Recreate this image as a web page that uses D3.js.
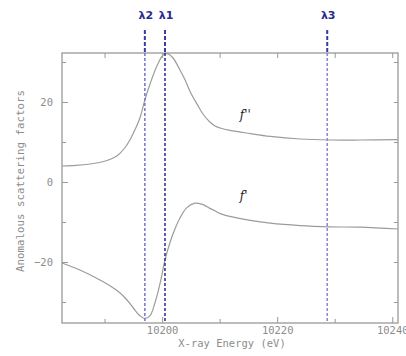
<!DOCTYPE html>
<html><head><meta charset="utf-8">
<script src="https://cdn.jsdelivr.net/npm/d3@7"></script>
<style>body{margin:0;background:#fff;} svg{display:block;}</style>
</head><body>
<script>
// ---- data ----
const fppEnergy = [10182.6,10185.0,10187.5,10189.5,10191.0,10192.3,10193.5,10194.4,10195.3,10196.2,10197.0,10197.9,10199.1,10200.2,10200.9,10201.9,10203.1,10204.0,10204.9,10206.1,10207.1,10208.3,10209.2,10210.1,10211.8,10215.3,10218.8,10224.0,10229.2,10234.4,10241.0];
const fppValues = [4.0,4.15,4.5,5.0,5.7,6.7,8.5,10.5,13.1,16.25,20.5,24.5,29.0,31.8,32.1,31.0,28.0,25.5,22.5,19.4,17.0,15.0,14.0,13.5,12.9,12.1,11.4,10.75,10.5,10.5,10.6];
const fpEnergy = [10182.6,10185.7,10189.2,10191.0,10192.7,10193.9,10195.0,10196.0,10197.0,10197.9,10198.8,10199.7,10200.5,10201.4,10202.3,10203.1,10204.3,10205.7,10207.0,10207.7,10208.3,10209.2,10210.1,10211.8,10215.3,10218.8,10224.0,10229.2,10234.4,10241.0];
const fpValues = [-20.25,-22.0,-24.5,-26.0,-27.75,-29.5,-31.5,-33.25,-34.1,-33.4,-30.0,-25.0,-19.5,-15.0,-11.5,-9.0,-6.4,-5.3,-5.6,-6.1,-6.6,-7.2,-7.9,-8.6,-9.6,-10.3,-10.9,-11.2,-11.3,-11.75];
const markerNames = ["λ2","λ1","λ3"];
const markerEnergy = [10197.0,10200.5,10228.7];
const xTickMajor = [10200,10220,10240];
const xTickMinor = [10190,10210,10230];
const yTickMajor = [-20,0,20];
const yTickMinor = [-30,-10,10,30];
const curveLabels = ["f''","f'"];
const curveLabelPos = [[10213.5,15.8],[10213.5,-4.5]];

(function(){
// ---- layout ----
const W=406,H=356;
const L=62,R=398,T=53,B=323;
const svg=d3.select("body").append("svg").attr("width",W).attr("height",H);
const x=d3.scaleLinear().domain([10182.6,10241.0]).range([L,R]);
const y=d3.scaleLinear().domain([-35.25,32.25]).range([B,T]);
const gray="#8c8c8c";
const font="'DejaVu Sans Mono', 'Liberation Mono', monospace";

// frame
svg.append("rect").attr("x",L).attr("y",T).attr("width",R-L).attr("height",B-T)
  .attr("fill","none").attr("stroke","#a0a0a0").attr("stroke-width",1.4);

// axes with inward ticks
const gBottom=svg.append("g").attr("transform",`translate(0,${B})`)
  .call(d3.axisBottom(x).tickValues(xTickMajor).tickSizeInner(-6).tickSizeOuter(0).tickPadding(4).tickFormat(d3.format("d")));
const gBottomMinor=svg.append("g").attr("transform",`translate(0,${B})`)
  .call(d3.axisBottom(x).tickValues(xTickMinor).tickSizeInner(-4).tickSizeOuter(0).tickFormat(""));
const gTop=svg.append("g").attr("transform",`translate(0,${T})`)
  .call(d3.axisTop(x).tickValues(xTickMajor.concat(xTickMinor)).tickSizeInner(-5).tickSizeOuter(0).tickFormat(""));
const gLeft=svg.append("g").attr("transform",`translate(${L},0)`)
  .call(d3.axisLeft(y).tickValues(yTickMajor).tickSizeInner(-6).tickSizeOuter(0).tickPadding(9).tickFormat(d3.format("d")));
const gLeftMinor=svg.append("g").attr("transform",`translate(${L},0)`)
  .call(d3.axisLeft(y).tickValues(yTickMinor).tickSizeInner(-4).tickSizeOuter(0).tickFormat(""));
const gRight=svg.append("g").attr("transform",`translate(${R},0)`)
  .call(d3.axisRight(y).tickValues(yTickMajor.concat(yTickMinor)).tickSizeInner(-4).tickSizeOuter(0).tickFormat(""));
[gBottom,gBottomMinor,gTop,gLeft,gLeftMinor,gRight].forEach(g=>{
  g.select(".domain").remove();
  g.selectAll(".tick line").attr("stroke","#999").attr("stroke-width",1);
  g.selectAll(".tick text").attr("fill",gray).style("font-family",font).style("font-size","10.5px");
});
gLeft.selectAll(".tick text").text(d=>d<0?"\u2212"+Math.abs(d):d);

// axis titles
svg.append("text").attr("x",232).attr("y",347).attr("text-anchor","middle")
  .attr("fill",gray).style("font-family",font).style("font-size","10.5px").text("X-ray Energy (eV)");
svg.append("text").attr("transform",`translate(24,181) rotate(-90)`).attr("text-anchor","middle")
  .attr("fill",gray).style("font-family",font).style("font-size","10.8px").text("Anomalous scattering factors");

// curves
const line=d3.line().x(d=>x(d[0])).y(d=>y(d[1])).curve(d3.curveCatmullRom.alpha(0.5));
svg.append("path").datum(d3.zip(fppEnergy,fppValues)).attr("d",line)
  .attr("fill","none").attr("stroke","#9c9c9c").attr("stroke-width",1.2);
svg.append("path").datum(d3.zip(fpEnergy,fpValues)).attr("d",line)
  .attr("fill","none").attr("stroke","#9c9c9c").attr("stroke-width",1.2);

// curve labels
curveLabels.forEach((t,i)=>{
  svg.append("text").attr("x",x(curveLabelPos[i][0])).attr("y",y(curveLabelPos[i][1]))
    .attr("fill","#222").style("font-family","'DejaVu Serif', serif").style("font-style","italic")
    .style("font-size","12px").text(t);
});

// wavelength markers
const innerColors=["#7c7cd2","#34349c","#8a8ad6"];
markerEnergy.forEach((e,i)=>{
  svg.append("line").attr("x1",x(e)).attr("x2",x(e)).attr("y1",30).attr("y2",T)
    .attr("stroke","#3a3aa2").attr("stroke-width",2).attr("stroke-dasharray","4,2");
  svg.append("line").attr("x1",x(e)).attr("x2",x(e)).attr("y1",T).attr("y2",B)
    .attr("stroke",innerColors[i]).attr("stroke-width",1.6).attr("stroke-dasharray","3,2");
  svg.append("text").attr("x",x(e)+1).attr("y",19).attr("text-anchor","middle")
    .attr("fill","#2b2b8c").style("font-family","'DejaVu Sans', sans-serif").style("font-weight","bold")
    .style("font-size","11px").text(markerNames[i]);
});
})();
</script>
</body></html>
